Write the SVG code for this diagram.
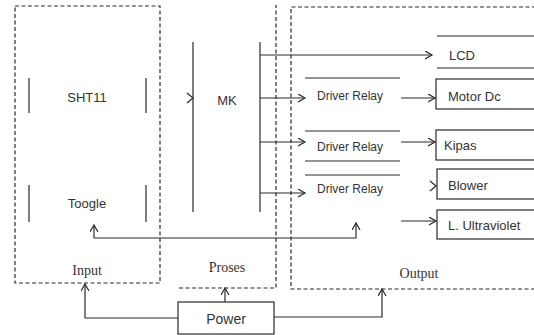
<svg xmlns="http://www.w3.org/2000/svg" width="534" height="335" viewBox="0 0 534 335">
<style>
.ln{stroke:#2a2a2a;stroke-width:1.2;fill:none}
.ds{stroke:#2a2a2a;stroke-width:1.2;fill:none;stroke-dasharray:4 2.5}
.bx{stroke:#2a2a2a;stroke-width:1.2;fill:#fff}
.t{font-family:"Liberation Sans",Arial,sans-serif;font-size:13px;fill:#333;dominant-baseline:central}
.s{font-family:"Liberation Serif","Times New Roman",serif;font-size:14px;fill:#333;dominant-baseline:central;text-anchor:middle}
.dr{font-size:12px}
.m{text-anchor:middle}
</style>
<defs>
<marker id="ah" markerUnits="userSpaceOnUse" markerWidth="10" markerHeight="10" refX="7" refY="4" orient="auto">
<path d="M0,0 L7,4 L0,8" fill="none" stroke="#2a2a2a" stroke-width="1.2"/>
</marker>
</defs>
<rect width="534" height="335" fill="#fff"/>

<g id="input">
<rect class="ds" x="15" y="6" width="145" height="277"/>
<text class="s" x="87" y="270">Input</text>
</g>
<g id="proses">
<path class="ds" d="M179,288 H276 V5"/>
<text class="s" x="227" y="267">Proses</text>
</g>
<g id="output">
<path class="ds" d="M536,7 H291 V289 H536"/>
<text class="s" x="419" y="273">Output</text>
</g>

<g id="sht11">
<path class="ln" d="M29,78 V113 M146,78 V113"/>
<text class="t m" x="87" y="97">SHT11</text>
</g>
<g id="toogle">
<path class="ln" d="M29,185 V222 M146,185 V222"/>
<text class="t m" x="87" y="203">Toogle</text>
</g>
<g id="mk">
<path class="ln" d="M193,42 V212 M260,42 V212"/>
<text class="t m" x="227" y="100">MK</text>
</g>
<g id="driver1">
<path class="ln" d="M305,78 H400"/>
<text class="t dr" x="317" y="96">Driver Relay</text>
</g>
<g id="driver2">
<path class="ln" d="M305,131 H400 M305,161 H400"/>
<text class="t dr" x="317" y="147">Driver Relay</text>
</g>
<g id="driver3">
<path class="ln" d="M305,175 H400"/>
<text class="t dr" x="317" y="189">Driver Relay</text>
</g>
<g id="lcd">
<path class="ln" d="M437,36 H536 M437,68 H536"/>
<text class="t" x="449" y="55">LCD</text>
</g>
<g id="motor">
<rect class="bx" x="436" y="79" width="110" height="30"/>
<text class="t" x="448" y="96">Motor Dc</text>
</g>
<g id="kipas">
<rect class="bx" x="436" y="130" width="110" height="30"/>
<text class="t" x="444" y="145">Kipas</text>
</g>
<g id="blower">
<rect class="bx" x="437" y="169" width="110" height="30"/>
<text class="t" x="448" y="185">Blower</text>
</g>
<g id="uv">
<rect class="bx" x="437" y="210" width="110" height="29"/>
<text class="t" x="448" y="225">L. Ultraviolet</text>
</g>
<g id="power">
<rect class="bx" x="178" y="302" width="96" height="32"/>
<text class="t m" x="226" y="319" style="font-size:14px">Power</text>
</g>

<g id="connectors">
<path class="ln" d="M187,93 L193,98 L187,103"/>
<path class="ln" d="M260,55 H432" marker-end="url(#ah)"/>
<path class="ln" d="M260,98 H305" marker-end="url(#ah)"/>
<path class="ln" d="M260,142 H305" marker-end="url(#ah)"/>
<path class="ln" d="M260,193 H305" marker-end="url(#ah)"/>
<path class="ln" d="M401,98 H435" marker-end="url(#ah)"/>
<path class="ln" d="M401,142 H435" marker-end="url(#ah)"/>
<path class="ln" d="M430,181 L436,186 L430,191"/>
<path class="ln" d="M401,221 H436" marker-end="url(#ah)"/>
<path class="ln" d="M94,238 H356 V223" marker-end="url(#ah)"/>
<path class="ln" d="M94,238 V225" marker-end="url(#ah)"/>
<path class="ln" d="M178,318 H85 V284" marker-end="url(#ah)"/>
<path class="ln" d="M225,302 V288" marker-end="url(#ah)"/>
<path class="ln" d="M274,317 H382 V289" marker-end="url(#ah)"/>
</g>
</svg>
